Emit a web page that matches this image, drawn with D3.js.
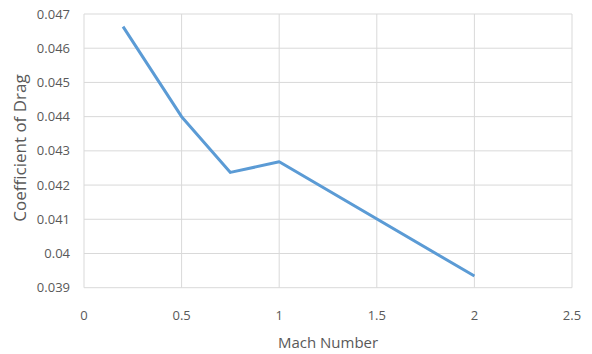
<!DOCTYPE html>
<html><head><meta charset="utf-8">
<script src="https://cdn.jsdelivr.net/npm/d3@7"></script>
<style>body{margin:0;background:#fff}text{font-family:"Open Sans",sans-serif;fill:#595959}</style>
</head><body><svg id="c" width="592" height="354"></svg>
<script>
const mach = [0.2, 0.5, 0.75, 1, 2];
const cd = [0.04663, 0.0440, 0.04237, 0.04268, 0.03934];
const xTicks = [0, 0.5, 1, 1.5, 2, 2.5];
const yTicks = [0.039, 0.04, 0.041, 0.042, 0.043, 0.044, 0.045, 0.046, 0.047];
const xTitle = "Mach Number", yTitle = "Coefficient of Drag";

const svg = d3.select("#c");
const x = d3.scaleLinear().domain([0, 2.5]).range([84, 572]);
const y = d3.scaleLinear().domain([0.039, 0.047]).range([287.7, 14]);
const fmtY = d => String(+d.toFixed(3));
const g = svg.append("g");
g.selectAll(".hg").data(yTicks).join("line").attr("x1", 84).attr("x2", 572)
 .attr("y1", d => y(d)).attr("y2", d => y(d)).attr("stroke", "#d9d9d9").attr("stroke-width", 1);
g.selectAll(".vg").data(xTicks).join("line").attr("y1", 14).attr("y2", 287.7)
 .attr("x1", d => x(d)).attr("x2", d => x(d)).attr("stroke", "#d9d9d9").attr("stroke-width", 1);
g.selectAll(".yl").data(yTicks).join("text").attr("x", 70).attr("y", d => y(d) + 4.5)
 .attr("text-anchor", "end").attr("font-size", 13).text(fmtY);
g.selectAll(".xl").data(xTicks).join("text").attr("x", d => x(d)).attr("y", 320)
 .attr("text-anchor", "middle").attr("font-size", 13).text(d => String(d));
svg.append("path").datum(mach.map((m, i) => [m, cd[i]]))
 .attr("d", d3.line().x(d => x(d[0])).y(d => y(d[1])))
 .attr("fill", "none").attr("stroke", "#5B9BD5").attr("stroke-width", 3).attr("stroke-linejoin", "round");
svg.append("text").attr("x", 328).attr("y", 348).attr("text-anchor", "middle").attr("font-size", 15).text(xTitle);
svg.append("text").attr("transform", "translate(26,148) rotate(-90)").attr("text-anchor", "middle")
 .attr("font-size", 17).text(yTitle);
</script></body></html>
